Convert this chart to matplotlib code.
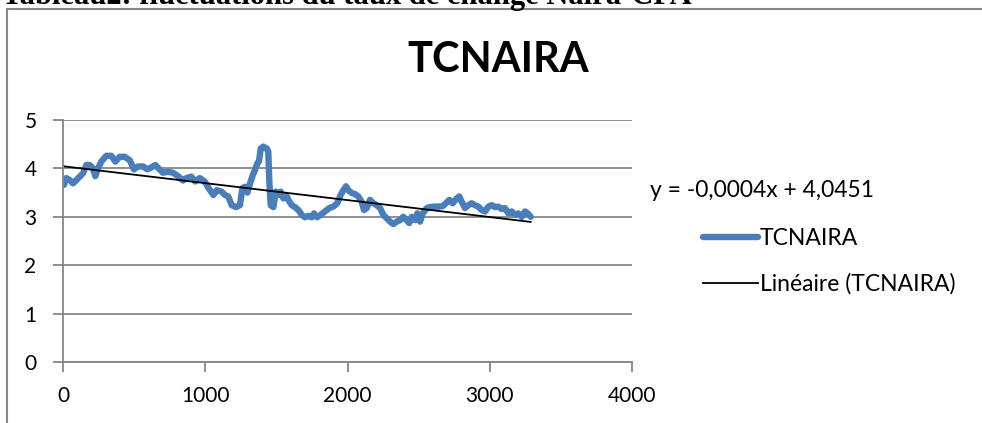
import numpy as np
import matplotlib.pyplot as plt
from matplotlib.patches import Rectangle

# series (index, TCNAIRA)
obs = [7, 23, 47, 70, 94, 117, 141, 164, 188, 211, 227, 246, 269, 304, 340, 368,
       398, 433, 469, 499, 527, 562, 593, 621, 649, 672, 703, 738, 773, 808, 844,
       867, 902, 930, 961, 996, 1024, 1057, 1080, 1115, 1139, 1162, 1186, 1216,
       1244, 1261, 1279, 1296, 1315, 1334, 1350, 1366, 1378, 1390, 1408, 1432,
       1443, 1450, 1460, 1479, 1495, 1514, 1530, 1549, 1568, 1584, 1608, 1631,
       1655, 1678, 1701, 1725, 1748, 1765, 1785, 1811, 1842, 1872, 1900, 1928,
       1952, 1971, 1990, 2006, 2030, 2053, 2076, 2100, 2116, 2135, 2158, 2182,
       2205, 2229, 2252, 2276, 2299, 2322, 2346, 2369, 2392, 2416, 2434, 2451,
       2475, 2491, 2510, 2529, 2557, 2580, 2608, 2638, 2669, 2692, 2716, 2739,
       2768, 2786, 2803, 2826, 2850, 2873, 2896, 2920, 2943, 2967, 2990, 3014,
       3037, 3060, 3084, 3107, 3131, 3154, 3178, 3201, 3225, 3248, 3271, 3288]
tcnaira = [3.66, 3.80, 3.76, 3.69, 3.76, 3.83, 3.90, 4.07, 4.07, 4.00, 3.84, 4.00,
           4.14, 4.26, 4.26, 4.14, 4.24, 4.24, 4.17, 3.98, 4.04, 4.04, 3.98, 4.02,
           4.07, 4.00, 3.91, 3.93, 3.91, 3.84, 3.75, 3.80, 3.83, 3.73, 3.80, 3.73,
           3.59, 3.45, 3.55, 3.52, 3.45, 3.42, 3.24, 3.20, 3.24, 3.59, 3.62, 3.50,
           3.69, 3.86, 3.97, 4.10, 4.15, 4.41, 4.45, 4.41, 4.35, 3.76, 3.24, 3.20,
           3.52, 3.45, 3.52, 3.38, 3.45, 3.35, 3.24, 3.20, 3.14, 3.04, 2.99, 3.02,
           2.99, 3.07, 2.99, 3.04, 3.11, 3.18, 3.21, 3.28, 3.45, 3.55, 3.63, 3.55,
           3.49, 3.47, 3.42, 3.31, 3.14, 3.18, 3.35, 3.28, 3.24, 3.18, 3.04, 2.97,
           2.90, 2.85, 2.90, 2.93, 3.00, 2.93, 2.87, 3.00, 2.93, 3.07, 2.90, 3.07,
           3.18, 3.20, 3.21, 3.21, 3.22, 3.28, 3.35, 3.28, 3.38, 3.42, 3.31, 3.18,
           3.24, 3.28, 3.24, 3.21, 3.14, 3.11, 3.21, 3.24, 3.20, 3.21, 3.16, 3.18,
           3.07, 3.11, 3.04, 3.07, 3.00, 3.11, 3.06, 3.00]

trend_intercept = 4.0451
trend_slope = -0.00035
equation = "y = -0,0004x + 4,0451"
xticks = [0, 1000, 2000, 3000, 4000]
yticks = [0, 1, 2, 3, 4, 5]

plt.rcParams['font.family'] = ['Lato', 'DejaVu Sans']
grey = '#868686'
blue = '#4A7EBB'

fig = plt.figure(figsize=(9.82, 4.23), dpi=100)
W, H = 982, 423

# caption above chart, cut by the top edge like in the source
fig.text(2 / W, 1 - 4 / H, "Tableau2: fluctuations du taux de change Naira-CFA",
         family='Liberation Serif', weight='bold', fontsize=22, va='baseline', ha='left')
fig.patches.append(Rectangle((7 / W, -0.1), 1.2, 1 - 9 / H + 0.1, transform=fig.transFigure,
                             fill=False, edgecolor=grey, linewidth=1.5))

ax = fig.add_axes([63 / W, 1 - 362 / H, 569 / W, 242 / H])
x = np.array(obs)
ax.plot(x, tcnaira, color=blue, linewidth=4.6, solid_capstyle='round',
        solid_joinstyle='round', label='TCNAIRA')
xt = np.array([0, x[-1]])
ax.plot(xt, trend_intercept + trend_slope * xt, color='black', linewidth=1.3,
        label='Linéaire (TCNAIRA)')

ax.set_xlim(0, 4000)
ax.set_ylim(0, 5)
ax.set_xticks(xticks)
ax.set_yticks(yticks)
ax.grid(axis='y', color=grey, linewidth=1.3)
ax.set_axisbelow(True)
for s in ['top', 'right']:
    ax.spines[s].set_visible(False)
for s in ['left', 'bottom']:
    ax.spines[s].set_color(grey)
    ax.spines[s].set_linewidth(1.3)
ax.tick_params(axis='both', colors=grey, length=7, width=1.3, labelsize=15,
               labelcolor='black')
ax.tick_params(axis='y', pad=12)
ax.tick_params(axis='x', pad=10)

fig.text(498 / W, 1 - 60 / H, "TCNAIRA", ha='center', va='center',
         fontsize=30, weight='bold')
fig.text(650 / W, 1 - 190 / H, equation, ha='left', va='center', fontsize=16.5)
ax.legend(loc='upper left', bbox_to_anchor=(692 / W, 1 - 217 / H),
          bbox_transform=fig.transFigure, frameon=False, fontsize=16.5,
          handlelength=2.4, handletextpad=0.05, labelspacing=1.05, borderpad=0)

fig.savefig('out.png', dpi=100)
